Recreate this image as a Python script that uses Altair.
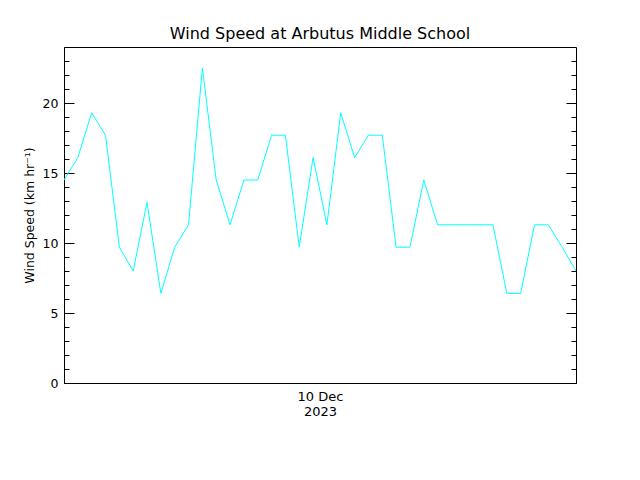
import altair as alt
import pandas as pd

# Hourly wind speed readings (km/h)
speeds = [14.5, 16.1, 19.3, 17.7, 9.7, 8.0, 12.9, 6.4, 9.7, 11.3,
          22.5, 14.5, 11.3, 14.5, 14.5, 17.7, 17.7, 9.7, 16.1, 11.3,
          19.3, 16.1, 17.7, 17.7, 9.7, 9.7, 14.5, 11.3, 11.3, 11.3,
          11.3, 11.3, 6.4, 6.4, 11.3, 11.3, 9.7, 8.0]
hours = list(range(len(speeds)))

major_ticks = [0, 5, 10, 15, 20]
minor_ticks = [1, 2, 3, 4, 6, 7, 8, 9, 11, 12, 13, 14, 16, 17, 18, 19, 21, 22, 23]
y_domain = [0, 24]
x_title = ["10 Dec", "2023"]
chart_title = "Wind Speed at Arbutus Middle School"
y_title = "Wind Speed (km hr\u207b\u00b9)"

W, H = 512, 336
FONT = "DejaVu Sans"

df = pd.DataFrame({"hour": hours, "speed": speeds})

xscale = alt.Scale(domain=[0, len(speeds) - 1], nice=False, zero=False)
yscale = alt.Scale(domain=y_domain, nice=False, zero=True)

base = alt.Chart(df)

line = base.mark_line(color="#00FFFF", strokeWidth=1, clip=True).encode(
    x=alt.X("hour:Q", scale=xscale,
            axis=alt.Axis(title=x_title, labels=False, ticks=False, tickSize=0,
                          grid=False, domain=True, titlePadding=7,
                          titleFontSize=13, titleLineHeight=15,
                          titleFont=FONT, titleFontWeight="normal",
                          titleColor="black", domainColor="black")),
    y=alt.Y("speed:Q", scale=yscale,
            axis=alt.Axis(orient="left", values=major_ticks, format="d",
                          ticks=False, tickSize=0, labelPadding=6, grid=False,
                          labelFont=FONT, labelFontSize=12.5, labelColor="black",
                          domainColor="black",
                          title=y_title, titlePadding=6, titleFontSize=12.5,
                          titleFont=FONT, titleFontWeight="normal",
                          titleColor="black")),
)


def tick_layer(orient, values, size):
    return base.mark_point(opacity=0).encode(
        y=alt.Y("speed:Q", scale=yscale,
                axis=alt.Axis(orient=orient, offset=-W, values=values,
                              tickSize=size, tickColor="black", tickWidth=1,
                              labels=False, domain=False,
                              grid=False, title=None)),
    )


layers = [
    line,
    tick_layer("right", major_ticks, 10),
    tick_layer("right", minor_ticks, 5),
    tick_layer("left", major_ticks, 10),
    tick_layer("left", minor_ticks, 5),
]

chart = alt.layer(*layers).resolve_axis(y="independent").properties(
    width=W,
    height=H,
    title=alt.TitleParams(chart_title, font=FONT, fontSize=16,
                          fontWeight="normal", color="black", offset=5),
    autosize=alt.AutoSizeParams(type="none"),
    padding={"left": 56, "top": 39, "right": 56, "bottom": 60},
).configure(
    background="white",
    view=alt.ViewConfig(stroke="black", strokeWidth=1),
)

chart.save("out.html", embed_options={"renderer": "svg", "actions": False})
